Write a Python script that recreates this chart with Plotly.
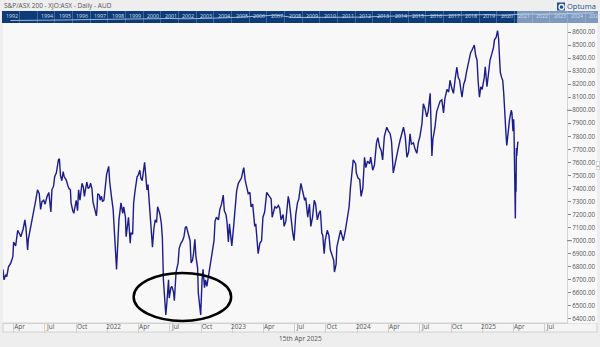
import plotly.graph_objects as go

# ---------------- data ----------------
dates = [
    "2021-03-01", "2021-03-04", "2021-03-09", "2021-03-12", "2021-03-17", "2021-03-24", "2021-03-30",
    "2021-04-01", "2021-04-07", "2021-04-13", "2021-04-19", "2021-04-22", "2021-04-29", "2021-05-04",
    "2021-05-07", "2021-05-12", "2021-05-14", "2021-05-21", "2021-05-27", "2021-06-01", "2021-06-04",
    "2021-06-10", "2021-06-15", "2021-06-19", "2021-06-23", "2021-06-28", "2021-07-02", "2021-07-08",
    "2021-07-13", "2021-07-19", "2021-07-22", "2021-07-27", "2021-07-30", "2021-08-04", "2021-08-10",
    "2021-08-13", "2021-08-16", "2021-08-20", "2021-08-24", "2021-08-27", "2021-09-02", "2021-09-07",
    "2021-09-10", "2021-09-14", "2021-09-16", "2021-09-21", "2021-09-24", "2021-09-29", "2021-10-01",
    "2021-10-05", "2021-10-08", "2021-10-12", "2021-10-18", "2021-10-22", "2021-10-25", "2021-10-28",
    "2021-11-01", "2021-11-05", "2021-11-09", "2021-11-12", "2021-11-16", "2021-11-19", "2021-11-24",
    "2021-11-29", "2021-12-01", "2021-12-03", "2021-12-08", "2021-12-10", "2021-12-14", "2021-12-17",
    "2021-12-21", "2021-12-24", "2021-12-29",
    "2022-01-04", "2022-01-07", "2022-01-12", "2022-01-17", "2022-01-20", "2022-01-24", "2022-01-27",
    "2022-01-31", "2022-02-03", "2022-02-09", "2022-02-14", "2022-02-17", "2022-02-22", "2022-02-24",
    "2022-02-28", "2022-03-03", "2022-03-08", "2022-03-10", "2022-03-15", "2022-03-18", "2022-03-22",
    "2022-03-28", "2022-03-31", "2022-04-05", "2022-04-08", "2022-04-12", "2022-04-19", "2022-04-22",
    "2022-04-26", "2022-04-29", "2022-05-03", "2022-05-06", "2022-05-12", "2022-05-16", "2022-05-20",
    "2022-05-24", "2022-05-27", "2022-06-01", "2022-06-03", "2022-06-07", "2022-06-10", "2022-06-13",
    "2022-06-16", "2022-06-20", "2022-06-23", "2022-06-28", "2022-06-30", "2022-07-05", "2022-07-08",
    "2022-07-13", "2022-07-15", "2022-07-20", "2022-07-26", "2022-07-29", "2022-08-03", "2022-08-08",
    "2022-08-12", "2022-08-16", "2022-08-19", "2022-08-24", "2022-08-30", "2022-09-02", "2022-09-06",
    "2022-09-09", "2022-09-13", "2022-09-16", "2022-09-21", "2022-09-23", "2022-09-27", "2022-09-30",
    "2022-10-04", "2022-10-07", "2022-10-11", "2022-10-14", "2022-10-18", "2022-10-21", "2022-10-26",
    "2022-10-31", "2022-11-04", "2022-11-08", "2022-11-11", "2022-11-15", "2022-11-21", "2022-11-25",
    "2022-11-30", "2022-12-02", "2022-12-05", "2022-12-08", "2022-12-13", "2022-12-16", "2022-12-20",
    "2022-12-23", "2022-12-28", "2022-12-30",
    "2023-01-04", "2023-01-09", "2023-01-13", "2023-01-18", "2023-01-23", "2023-01-27", "2023-02-01",
    "2023-02-03", "2023-02-07", "2023-02-10", "2023-02-16", "2023-02-21", "2023-02-24", "2023-03-01",
    "2023-03-07", "2023-03-10", "2023-03-14", "2023-03-17", "2023-03-22", "2023-03-27", "2023-03-31",
    "2023-04-05", "2023-04-11", "2023-04-14", "2023-04-20", "2023-04-24", "2023-04-27", "2023-05-02",
    "2023-05-05", "2023-05-10", "2023-05-15", "2023-05-19", "2023-05-23", "2023-05-29", "2023-06-01",
    "2023-06-06", "2023-06-13", "2023-06-16", "2023-06-21", "2023-06-26", "2023-06-30", "2023-07-05",
    "2023-07-10", "2023-07-14", "2023-07-20", "2023-07-25", "2023-07-31", "2023-08-03", "2023-08-09",
    "2023-08-14", "2023-08-18", "2023-08-23", "2023-08-28", "2023-09-01", "2023-09-06", "2023-09-11",
    "2023-09-15", "2023-09-19", "2023-09-22", "2023-09-26", "2023-09-29", "2023-10-05", "2023-10-10",
    "2023-10-14", "2023-10-19", "2023-10-24", "2023-10-26", "2023-10-31", "2023-11-02", "2023-11-07",
    "2023-11-13", "2023-11-16", "2023-11-21", "2023-11-27", "2023-12-01", "2023-12-05", "2023-12-08",
    "2023-12-12", "2023-12-15", "2023-12-20", "2023-12-27", "2023-12-29",
    "2024-01-03", "2024-01-08", "2024-01-12", "2024-01-17", "2024-01-22", "2024-01-26", "2024-01-31",
    "2024-02-06", "2024-02-09", "2024-02-15", "2024-02-20", "2024-02-26", "2024-03-01", "2024-03-06",
    "2024-03-11", "2024-03-15", "2024-03-20", "2024-03-27", "2024-04-01", "2024-04-06", "2024-04-10",
    "2024-04-15", "2024-04-19", "2024-04-25", "2024-04-29", "2024-05-05", "2024-05-10", "2024-05-15",
    "2024-05-20", "2024-05-25", "2024-05-30", "2024-06-03", "2024-06-07", "2024-06-13", "2024-06-18",
    "2024-06-23", "2024-06-27", "2024-07-02", "2024-07-08", "2024-07-12", "2024-07-17", "2024-07-22",
    "2024-07-26", "2024-08-01", "2024-08-06", "2024-08-09", "2024-08-15", "2024-08-20", "2024-08-25",
    "2024-08-30", "2024-09-04", "2024-09-09", "2024-09-13", "2024-09-19", "2024-09-24", "2024-09-28",
    "2024-10-03", "2024-10-08", "2024-10-14", "2024-10-18", "2024-10-22", "2024-10-26", "2024-10-30",
    "2024-11-02", "2024-11-07", "2024-11-11", "2024-11-15", "2024-11-21", "2024-11-27", "2024-12-01",
    "2024-12-05", "2024-12-08", "2024-12-12", "2024-12-16", "2024-12-19", "2024-12-23", "2024-12-27",
    "2024-12-31",
    "2025-01-06", "2025-01-09", "2025-01-14", "2025-01-19", "2025-01-23", "2025-01-28", "2025-02-02",
    "2025-02-05", "2025-02-10", "2025-02-14", "2025-02-17", "2025-02-19", "2025-02-22", "2025-02-26",
    "2025-03-01", "2025-03-04", "2025-03-07", "2025-03-11", "2025-03-13", "2025-03-17", "2025-03-21",
    "2025-03-26", "2025-03-28", "2025-03-31", "2025-04-02", "2025-04-03", "2025-04-04", "2025-04-07",
    "2025-04-08", "2025-04-09", "2025-04-10", "2025-04-11", "2025-04-14", "2025-04-15",
]
values = [
    6780, 6700, 6740, 6725, 6800, 6830, 6880,
    6990, 6960, 7080, 7050, 7030, 7090, 7160,
    7100, 6930, 7010, 7100, 7180, 7260, 7300,
    7390, 7360, 7240, 7300, 7310, 7280, 7340,
    7370, 7220, 7390, 7420, 7490, 7520, 7620,
    7628, 7500, 7460, 7530, 7490, 7465, 7420,
    7400, 7390, 7290, 7230, 7210, 7280, 7310,
    7230, 7390, 7310, 7440, 7410, 7340, 7390,
    7450, 7400, 7410, 7440, 7400, 7300, 7250,
    7190, 7250, 7360, 7350, 7310, 7340, 7300,
    7310, 7380, 7510,
    7570, 7450, 7340, 7240, 7100, 6920, 6780,
    7000, 7160, 7290, 7210, 7260, 7180, 7030,
    7100, 7180, 6980, 7060, 7050, 7290, 7380,
    7490, 7500, 7540, 7480, 7460, 7600, 7520,
    7390, 7430, 7290, 7180, 6950, 7090, 7160,
    7140, 7260, 7220, 7200, 7130, 7020, 6700,
    6560, 6430, 6520, 6700, 6560, 6640, 6650,
    6600, 6540, 6760, 6830, 6940, 6980, 7000,
    7030, 7100, 7110, 7060, 7000, 6830, 6850,
    6900, 7010, 6880, 6790, 6600, 6500, 6430,
    6700, 6780, 6640, 6700, 6650, 6700, 6780,
    6880, 6950, 7000, 7150, 7180, 7160, 7240,
    7280, 7320, 7350, 7230, 7200, 7140, 6990,
    7130, 7020, 6960,
    7100, 7260, 7380, 7440, 7460, 7480, 7540,
    7560, 7465, 7430, 7360, 7370, 7260, 7280,
    7110, 7130, 6990, 6900, 6980, 7000, 7180,
    7220, 7370, 7360, 7340, 7320, 7180, 7240,
    7260, 7250, 7270, 7250, 7160, 7200, 7110,
    7150, 7340, 7300, 7160, 7060, 7000, 7200,
    7290, 7320, 7440, 7380, 7310, 7330, 7180,
    7280, 7110, 7180, 7310, 7280, 7160, 7210,
    7230, 7060, 7040, 6900, 7000, 7080, 7040,
    6930, 6880, 6850, 6760, 6820, 6950, 7020,
    7080, 7050, 7000, 7080, 7160, 7210, 7260,
    7410, 7500, 7620, 7590, 7520,
    7480, 7470, 7340, 7400, 7640, 7560, 7610,
    7590, 7640, 7540, 7580, 7750, 7790, 7720,
    7690, 7620, 7800, 7870, 7840, 7820, 7760,
    7520, 7570, 7670, 7700, 7770, 7820, 7870,
    7800, 7640, 7680, 7820, 7740, 7750, 7700,
    7670, 7750, 7800, 7900, 8050, 8010, 7950,
    7990, 8130, 7650, 7780, 7870, 7990, 8030,
    8070, 8080, 7980, 8090, 8160, 8140, 8230,
    8170, 8130, 8260, 8330, 8250, 8230, 8150,
    8100, 8200, 8230, 8290, 8360, 8440, 8460,
    8480, 8500, 8420, 8385, 8230, 8100, 8180,
    8160,
    8250, 8334, 8180, 8300, 8385, 8430, 8480,
    8540, 8560, 8610, 8550, 8440, 8290, 8250,
    8230, 8130, 7950, 7800, 7730, 7850, 7930,
    8000, 7980, 7840, 7930, 7860, 7670, 7170,
    7510, 7375, 7710, 7650, 7750, 7760,
]

# long-term overview strip (approximate yearly levels)
overview_dates = [f"{y}-07-01" for y in range(1992, 2026)]
overview_values = [1600, 1950, 2000, 2050, 2300, 2600, 2700, 2950, 3150, 3300, 3050, 3150,
                   3800, 4500, 5400, 6200, 4200, 4300, 4700, 4300, 4500, 5200, 5400, 5300,
                   5400, 5800, 6000, 6600, 6000, 7300, 7000, 7200, 7900, 8100]

year_labels = ["1992", "1994", "1995", "1996", "1997", "1998", "1999", "2000", "2001", "2002",
               "2003", "2004", "2005", "2006", "2007", "2008", "2009", "2010", "2011", "2012",
               "2013", "2014", "2015", "2016", "2017", "2018", "2019", "2020", "2021", "2022",
               "2023", "2024", "2025"]
year_ticks = [f"{y}-01-01" for y in range(1993, 2026)]

x_tick_vals = ["2021-04-01", "2021-07-01", "2021-10-01", "2022-01-01", "2022-04-01", "2022-07-01",
               "2022-10-01", "2023-01-01", "2023-04-01", "2023-07-01", "2023-10-01", "2024-01-01",
               "2024-04-01", "2024-07-01", "2024-10-01", "2025-01-01", "2025-04-01", "2025-07-01"]
x_tick_text = ["Apr", "Jul", "Oct", "2022", "Apr", "Jul", "Oct", "2023", "Apr", "Jul", "Oct",
               "2024", "Apr", "Jul", "Oct", "2025", "Apr", "Jul"]

y_tick_vals = [6400, 6500, 6600, 6700, 6800, 6900, 7000, 7100, 7200, 7300, 7400, 7500,
               7600, 7700, 7800, 7900, 8000, 8100, 8200, 8300, 8400, 8500, 8600]
major_levels = [7000, 8000]

highlight_x = ["2022-03-18", "2022-12-28"]
highlight_y = [6385, 6753]

title_text = "S&P/ASX 200 - XJO:ASX - Daily - AUD"
footer_text = "15th Apr 2025"

# ---------------- layout geometry (pixels) ----------------
W, H = 600, 347
PL, PR, PT, PB = 3, 567, 23, 323      # main plot
ST = 11                               # strip top
SL, SR = 2, 598


def px_x(p):
    return p / W


def px_y(p):
    return 1 - p / H


FONT = "Open Sans"
NAVY = "#1c1c8c"

fig = go.Figure()

fig.add_trace(go.Scatter(x=overview_dates, y=overview_values, mode="lines",
                         line=dict(color="#9db8dc", width=1), xaxis="x2", yaxis="y2",
                         hoverinfo="skip", showlegend=False))

fig.add_trace(go.Scatter(x=dates, y=values, mode="lines",
                         line=dict(color=NAVY, width=1.4), showlegend=False))

shapes = []
# x-axis band
shapes.append(dict(type="rect", xref="paper", yref="paper", x0=px_x(PL), x1=px_x(597),
                   y0=px_y(332), y1=px_y(PB), fillcolor="#f5f5f5",
                   line=dict(color="#d2d2d2", width=1), layer="below"))
# right label area
shapes.append(dict(type="rect", xref="paper", yref="paper", x0=px_x(PR), x1=px_x(597),
                   y0=px_y(PB), y1=px_y(PT), fillcolor="#f8f8f8",
                   line=dict(width=0), layer="below"))
# selected window in strip
shapes.append(dict(type="rect", xref="x2", yref="y2 domain", x0="2021-02-25", x1="2025-09-24",
                   y0=0, y1=1, fillcolor="rgba(195,212,232,0.62)", line=dict(width=0), layer="above"))
# longer ticks at round thousands
for lv in major_levels:
    shapes.append(dict(type="line", xref="paper", yref="y", x0=px_x(PR), x1=px_x(PR + 5),
                       y0=lv, y1=lv, line=dict(color="#888888", width=1)))
# highlight ellipse
shapes.append(dict(type="circle", xref="x", yref="y", x0=highlight_x[0], x1=highlight_x[1],
                   y0=highlight_y[0], y1=highlight_y[1], line=dict(color="black", width=2.5)))
# logo icon
shapes.append(dict(type="rect", xref="paper", yref="paper", x0=px_x(557), x1=px_x(565),
                   y0=px_y(10.5), y1=px_y(2.5), fillcolor="#1b4f8f", line=dict(width=0)))
shapes.append(dict(type="circle", xref="paper", yref="paper", x0=px_x(559), x1=px_x(564),
                   y0=px_y(9.5), y1=px_y(4.5), fillcolor="rgba(0,0,0,0)",
                   line=dict(color="white", width=1.3)))

annotations = []
for lab, tv in zip(year_labels, ["1992-01-08"] + year_ticks[1:]):
    annotations.append(dict(xref="x2", yref="y2 domain", x=tv, y=1, xanchor="left", yanchor="top",
                            xshift=2, yshift=1, text=lab, showarrow=False,
                            font=dict(family=FONT, size=5.3, color="#d3ddec")))
annotations.append(dict(xref="paper", yref="paper", x=px_x(2), y=px_y(6), xanchor="left",
                        yanchor="middle", text=title_text, showarrow=False,
                        font=dict(family=FONT, size=6.5, color="#555555")))
annotations.append(dict(xref="paper", yref="paper", x=px_x(300), y=px_y(338), xanchor="center",
                        yanchor="middle", text=footer_text, showarrow=False,
                        font=dict(family=FONT, size=6.5, color="#555555")))
annotations.append(dict(xref="paper", yref="paper", x=px_x(565), y=px_y(6.5), xanchor="left",
                        yanchor="middle", text="Optuma", showarrow=False,
                        font=dict(family=FONT, size=7.5, color="#1b4f8f")))
annotations.append(dict(xref="paper", yref="paper", x=px_x(597.5), y=px_y(166), xanchor="center",
                        yanchor="middle", text="<", showarrow=False, bgcolor="white",
                        bordercolor="#bbbbbb", borderwidth=0.5, borderpad=0,
                        font=dict(family=FONT, size=5.5, color="#333333")))

fig.update_layout(
    width=W, height=H, autosize=False,
    margin=dict(l=0, r=0, t=0, b=0),
    paper_bgcolor="#eeeeee", plot_bgcolor="#f8f8f8",
    showlegend=False,
    xaxis=dict(domain=[px_x(PL), px_x(PR)], type="date",
               range=["2021-03-01", "2025-09-05"],
               tickmode="array", tickvals=x_tick_vals, ticktext=x_tick_text,
               ticks="outside", ticklen=9, tickcolor="#d0d0d0", tickwidth=1,
               ticklabelshift=6, ticklabelstandoff=-12,
               tickfont=dict(family=FONT, size=6.5, color="#555555"),
               showgrid=False, zeroline=False, showline=True, linecolor="#d2d2d2",
               anchor="y"),
    yaxis=dict(domain=[px_y(PB), px_y(PT)], range=[6369, 8669], side="right",
               tickmode="array", tickvals=y_tick_vals, tickformat=".2f",
               ticks="outside", ticklen=3, tickcolor="#888888",
               tickfont=dict(family=FONT, size=6.2, color="#555555"),
               showgrid=False, zeroline=False, showline=True, linecolor="#d2d2d2",
               anchor="x"),
    xaxis2=dict(domain=[px_x(SL), px_x(SR)], type="date",
                range=["1992-01-08", "2025-09-24"], anchor="y2",
                tickmode="array", tickvals=year_ticks, showticklabels=False,
                showgrid=True, gridcolor="#3a66a3", gridwidth=1, zeroline=False,
                showline=False, ticks=""),
    yaxis2=dict(domain=[px_y(PT), px_y(ST)], range=[-540, 9720], anchor="x2",
                showticklabels=False, showgrid=False, zeroline=False, ticks=""),
    shapes=shapes,
    annotations=annotations,
)

# strip background (dark blue)
fig.add_shape(type="rect", xref="x2 domain", yref="y2 domain", x0=0, x1=1, y0=0, y1=1,
              fillcolor="#0d3b77", line=dict(width=0), layer="below")

fig.write_html("out.html")
